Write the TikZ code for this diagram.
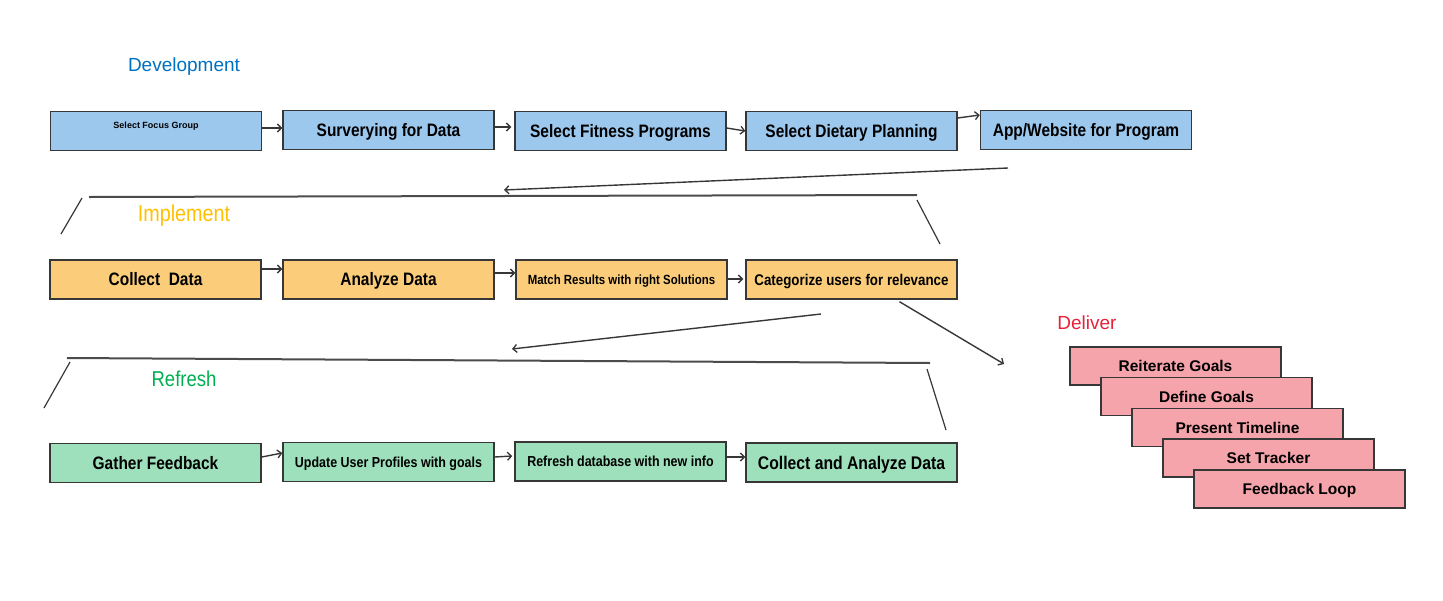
\documentclass[tikz,border=0pt]{standalone}
\usepackage{fontspec}
\setmainfont{Liberation Sans}
\newfontfamily\condf[FakeStretch=0.86]{Liberation Sans}
\usetikzlibrary{arrows.meta}
\definecolor{bfill}{RGB}{157,200,238}
\definecolor{ofill}{RGB}{251,205,122}
\definecolor{gfill}{RGB}{158,224,188}
\definecolor{pfill}{RGB}{244,164,170}
\definecolor{edge}{RGB}{55,55,55}
\definecolor{devc}{RGB}{0,112,192}
\definecolor{impc}{RGB}{255,192,0}
\definecolor{refc}{RGB}{0,176,80}
\definecolor{delc}{RGB}{232,32,58}
\tikzset{
  stepbox/.style={draw=edge, line width=1.4pt, minimum width=211pt, minimum height=39pt, inner sep=0pt, align=center, text depth=0pt},
  bluebox/.style={stepbox, fill=bfill},
  orbox/.style={stepbox, fill=ofill},
  grbox/.style={stepbox, fill=gfill},
  pkbox/.style={stepbox, fill=pfill, minimum height=38pt, text height=11pt, font=\fontsize{15.5}{18}\selectfont\bfseries},
  big/.style={text height=12.9pt, font=\condf\fontsize{18}{21}\selectfont\bfseries},
  mid/.style={text height=11.2pt, font=\condf\fontsize{15.5}{18}\selectfont\bfseries},
  sml/.style={text height=10.4pt, font=\condf\fontsize{14.5}{17}\selectfont\bfseries},
  conn/.style={draw=edge, line width=1.4pt, -{Straight Barb[length=4pt,width=8pt,line width=1.3pt]}},
  bar/.style={draw=edge!90, line width=2pt},
  slant/.style={draw=edge, line width=1.2pt},
  phase/.style={inner sep=0pt}
}
\begin{document}
\begin{tikzpicture}[x=1pt,y=-1pt]
\useasboundingbox (0,0) rectangle (1443,600);
% labels
\node[phase, font=\fontsize{19}{22}\selectfont, text=devc] (ldev) at (184,67) {Development};
\node[phase, font=\condf\fontsize{23}{26}\selectfont, text=impc] (limp) at (184,216) {Implement};
\node[phase, font=\condf\fontsize{21.5}{24}\selectfont, text=refc] (lref) at (184,379) {Refresh};
\node[phase, font=\fontsize{19}{22}\selectfont, text=delc] (ldel) at (1087,323) {Deliver};
% row 1
\node[bluebox] (n1) at (156,131) {};
\node[phase, font=\fontsize{9}{11}\selectfont\bfseries] (n1t) at ([yshift=-15pt]n1.north) {Select Focus Group};
\node[bluebox, big] (n2) at (388.5,130) {Surverying for Data};
\node[bluebox, big] (n3) at (620.5,131) {Select Fitness Programs};
\node[bluebox, big] (n4) at (851.5,131) {Select Dietary Planning};
\node[bluebox, big] (n5) at (1086,130) {App/Website for Program};
\draw[conn] ([yshift=3pt]n1.east) -- ([yshift=2pt]n2.west);
\draw[conn] ([yshift=3pt]n2.east) -- ([xshift=-3pt,yshift=4pt]n3.west);
\draw[conn] ([yshift=3pt]n3.east) -- (n4.west);
\draw[conn] ([yshift=13pt]n4.east) -- ([yshift=15pt]n5.west);
% transition 1
\coordinate (t1s) at (1008,168);
\coordinate (t1e) at (504,190);
\draw[conn] (t1s) -- (t1e);
\coordinate (b1l) at (89,197);
\coordinate (b1r) at (917,195);
\draw[bar] (b1l) -- (b1r);
\coordinate (s1a) at (82,198);
\coordinate (s1b) at (61,234);
\draw[slant] (s1a) -- (s1b);
\coordinate (s1c) at (917,200);
\coordinate (s1d) at (940,244);
\draw[slant] (s1c) -- (s1d);
% row 2
\node[orbox, big] (c1) at (155.5,279.5) {Collect\ \ Data};
\node[orbox, big] (c2) at (388.5,279.5) {Analyze Data};
\node[orbox, text height=9.5pt, font=\condf\fontsize{13.3}{16}\selectfont\bfseries] (c3) at (621.5,279.5) {Match Results with right Solutions};
\node[orbox, mid] (c4) at (851.5,279.5) {Categorize users for relevance};
\draw[conn] ([yshift=10.5pt]c1.east) -- ([yshift=10.5pt]c2.west);
\draw[conn] ([yshift=6.5pt]c2.east) -- ([yshift=6.5pt]c3.west);
\draw[conn] ([yshift=0.5pt]c3.east) -- ([xshift=-2pt,yshift=0.5pt]c4.west);
% transition 2
\coordinate (t2s) at (821,314);
\coordinate (t2e) at (512,349);
\draw[conn] (t2s) -- (t2e);
\coordinate (dl) at (1004,364);
\draw[conn] ([xshift=48pt,yshift=-2pt]c4.south) -- (dl);
\coordinate (b2l) at (67,358);
\coordinate (b2r) at (930,363);
\draw[bar] (b2l) -- (b2r);
\coordinate (s2a) at (70,362);
\coordinate (s2b) at (44,408);
\draw[slant] (s2a) -- (s2b);
\coordinate (s2c) at (927,369);
\coordinate (s2d) at (946,430);
\draw[slant] (s2c) -- (s2d);
% row 3
\node[grbox, big] (g1) at (155.5,463) {Gather Feedback};
\node[grbox, sml] (g2) at (388.5,462) {Update User Profiles with goals};
\node[grbox, sml] (g3) at (620.5,461.5) {Refresh database with new info};
\node[grbox, text height=13.1pt, font=\condf\fontsize{18.3}{21}\selectfont\bfseries] (g4) at (851.5,462.5) {Collect and Analyze Data};
\draw[conn] ([yshift=6pt]g1.east) -- ([yshift=9pt]g2.west);
\draw[conn] ([yshift=5pt]g2.east) -- ([xshift=-2pt,yshift=5.5pt]g3.west);
\draw[conn] ([yshift=4.5pt]g3.east) -- ([yshift=5.5pt]g4.west);
% deliver stack
\node[pkbox] (p1) at (1175.5,366) {Reiterate Goals};
\node[pkbox] (p2) at (1206.5,396.5) {Define Goals};
\node[pkbox] (p3) at (1237.5,427.5) {Present Timeline};
\node[pkbox] (p4) at (1268.5,458) {Set Tracker};
\node[pkbox] (p5) at (1299.5,489) {Feedback Loop};
\end{tikzpicture}
\end{document}
